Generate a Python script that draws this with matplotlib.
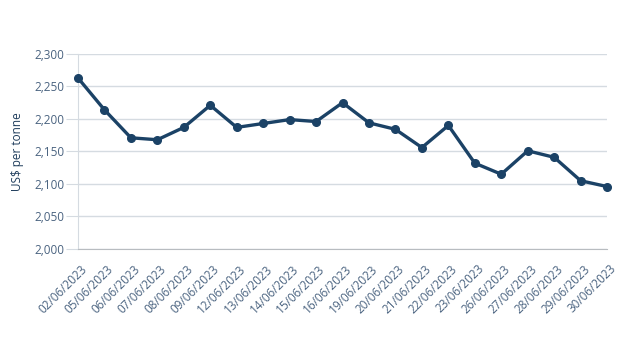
import matplotlib.pyplot as plt
import matplotlib.transforms as mtransforms

dates = ["02/06/2023", "05/06/2023", "06/06/2023", "07/06/2023", "08/06/2023",
         "09/06/2023", "12/06/2023", "13/06/2023", "14/06/2023", "15/06/2023",
         "16/06/2023", "19/06/2023", "20/06/2023", "21/06/2023", "22/06/2023",
         "23/06/2023", "26/06/2023", "27/06/2023", "28/06/2023", "29/06/2023",
         "30/06/2023"]
prices = [2263, 2214, 2171, 2168, 2187, 2221, 2187, 2193, 2199, 2196,
          2225, 2194, 2184, 2156, 2190, 2132, 2115, 2151, 2141, 2105, 2096]
y_ticks = [2000, 2050, 2100, 2150, 2200, 2250, 2300]

plt.rcParams['font.family'] = ['Open Sans', 'DejaVu Sans']

fig = plt.figure(figsize=(6.21, 3.57), dpi=100)
ax = fig.add_axes([0.1256, 0.3025, 0.852, 0.5465])

x = range(len(dates))
ax.plot(x, prices, color="#1b4266", linewidth=2.4, marker="o", markersize=5.5,
        zorder=3, clip_on=False)

ax.set_xlim(0, len(dates) - 1)
ax.set_ylim(2000, 2300)
ax.set_yticks(y_ticks)
ax.set_yticklabels([f"{v:,}" for v in y_ticks])
ax.set_xticks(list(x))
ax.set_xticklabels([])

# rotated date labels, nudged right/down of each tick like the original
offset = mtransforms.ScaledTranslation(7 / 100, -18 / 100, fig.dpi_scale_trans)
for i, d in zip(x, dates):
    ax.text(i, 0, d, transform=ax.get_xaxis_transform() + offset,
            rotation=45, ha="right", va="center", rotation_mode="anchor",
            fontsize=8.5, color="#4a6380")

ax.grid(axis="y", color="#d5dbe1", linewidth=1)
ax.set_axisbelow(True)
for s in ["top", "right"]:
    ax.spines[s].set_visible(False)
ax.spines["left"].set_color("#d5dbe1")
ax.spines["bottom"].set_color("#b8bcc0")

ax.tick_params(axis="y", length=9, color="#d5dbe1", labelsize=8.5, labelcolor="#4a6380", pad=1)
ax.tick_params(axis="x", length=0)

ax.set_ylabel("US$ per tonne", fontsize=8.5, color="#1f3d5c", labelpad=7)

fig.savefig("out.png", dpi=100)
